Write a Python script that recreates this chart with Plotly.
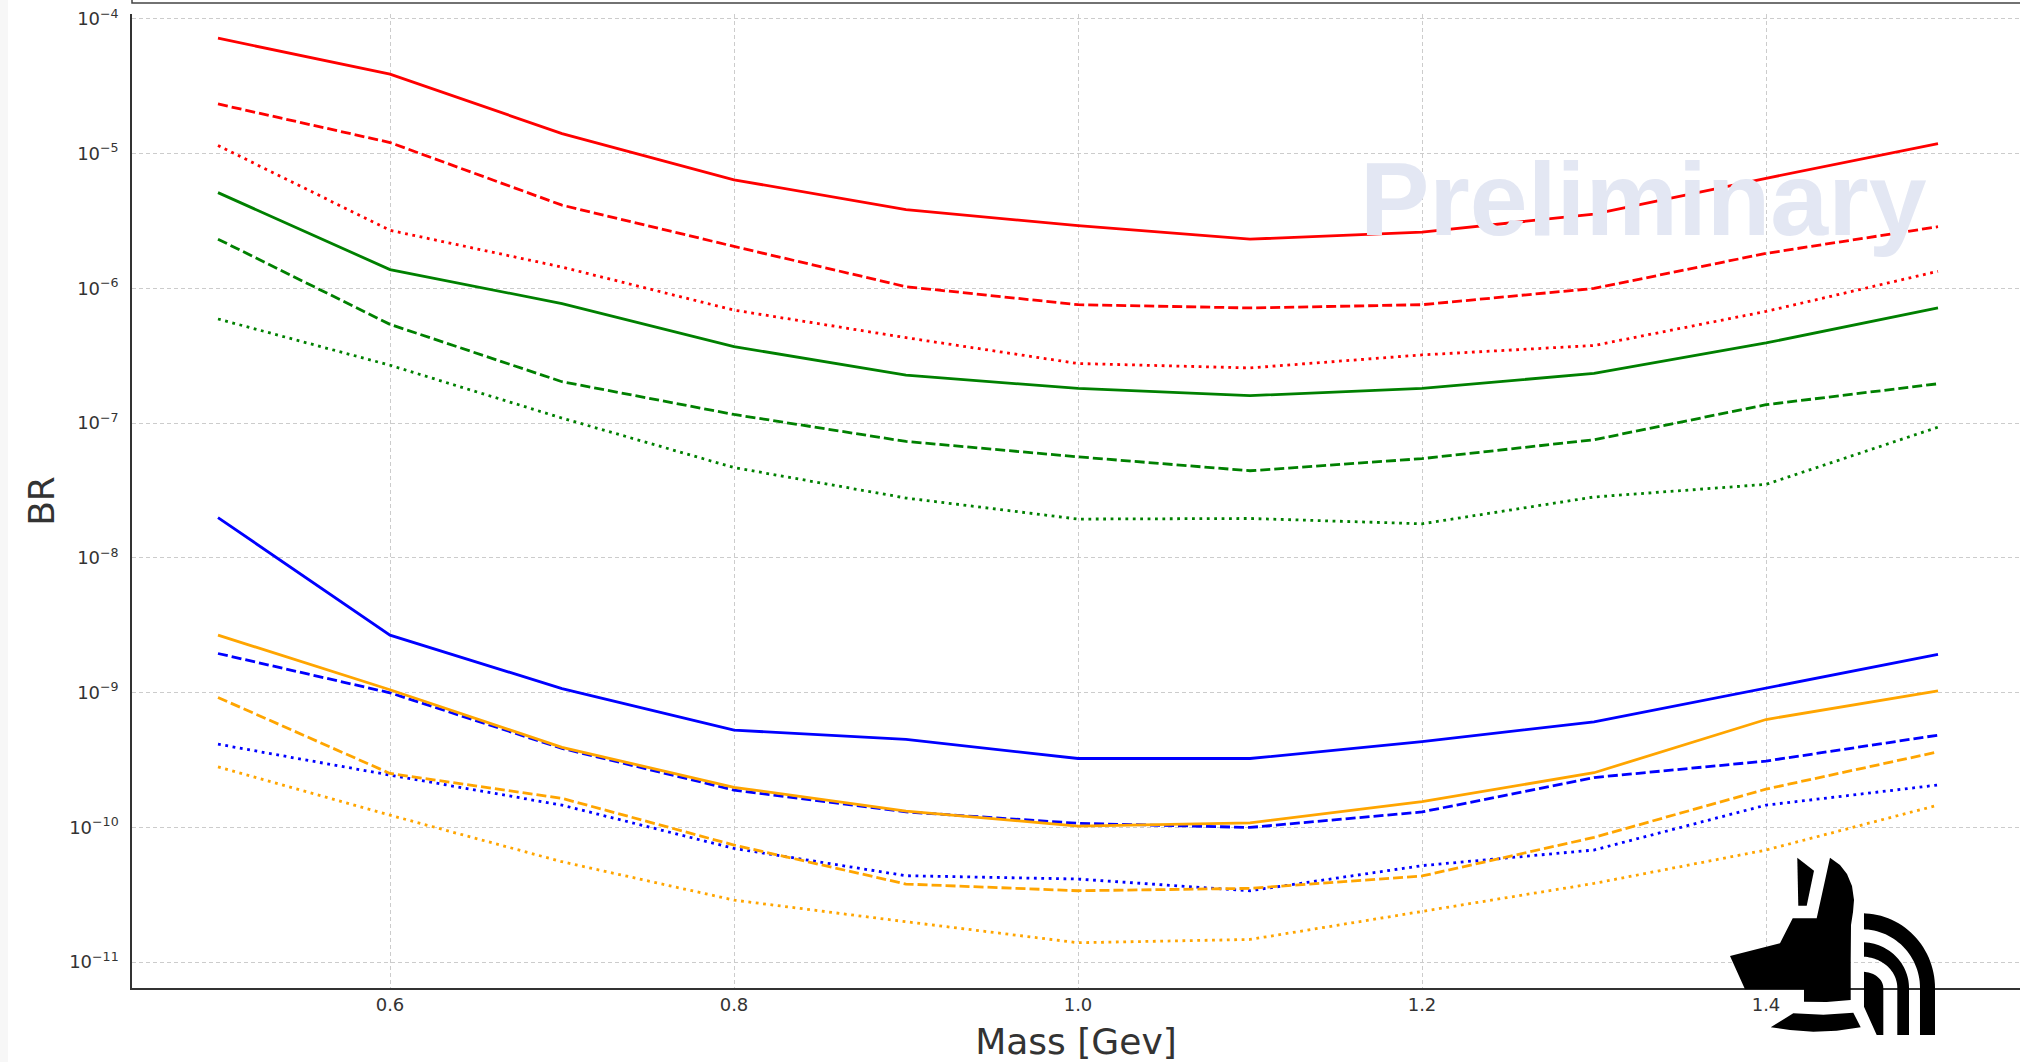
import math
import plotly.graph_objects as go

# ---- data: branching-ratio limits vs mass ----
mass = [0.5, 0.6, 0.7, 0.8, 0.9, 1.0, 1.1, 1.2, 1.3, 1.4, 1.5]

red_solid = [7.2e-5, 3.9e-5, 1.41e-5, 6.4e-6, 3.85e-6, 2.92e-6, 2.32e-6, 2.62e-6, 3.56e-6, 6.56e-6, 1.19e-5]
red_dashed = [2.34e-5, 1.21e-5, 4.15e-6, 2.05e-6, 1.03e-6, 7.57e-7, 7.16e-7, 7.57e-7, 1.0e-6, 1.82e-6, 2.87e-6]
red_dotted = [1.15e-5, 2.70e-6, 1.44e-6, 6.9e-7, 4.31e-7, 2.77e-7, 2.57e-7, 3.21e-7, 3.77e-7, 6.75e-7, 1.34e-6]

green_solid = [5.14e-6, 1.38e-6, 7.71e-7, 3.70e-7, 2.27e-7, 1.81e-7, 1.60e-7, 1.81e-7, 2.34e-7, 3.94e-7, 7.16e-7]
green_dashed = [2.32e-6, 5.41e-7, 2.03e-7, 1.16e-7, 7.31e-8, 5.62e-8, 4.43e-8, 5.45e-8, 7.53e-8, 1.37e-7, 1.96e-7]
green_dotted = [5.93e-7, 2.69e-7, 1.09e-7, 4.68e-8, 2.78e-8, 1.94e-8, 1.96e-8, 1.79e-8, 2.83e-8, 3.51e-8, 9.33e-8]

blue_solid = [1.99e-8, 2.67e-9, 1.07e-9, 5.26e-10, 4.49e-10, 3.24e-10, 3.24e-10, 4.32e-10, 6.07e-10, 1.08e-9, 1.92e-9]
blue_dashed = [1.95e-9, 9.96e-10, 3.85e-10, 1.89e-10, 1.30e-10, 1.07e-10, 9.97e-11, 1.30e-10, 2.34e-10, 3.10e-10, 4.83e-10]
blue_dotted = [4.14e-10, 2.44e-10, 1.46e-10, 6.97e-11, 4.37e-11, 4.13e-11, 3.38e-11, 5.19e-11, 6.78e-11, 1.46e-10, 2.06e-10]

orange_solid = [2.67e-9, 1.05e-9, 3.92e-10, 1.98e-10, 1.32e-10, 1.02e-10, 1.08e-10, 1.55e-10, 2.54e-10, 6.31e-10, 1.03e-9]
orange_dashed = [9.2e-10, 2.51e-10, 1.64e-10, 7.38e-11, 3.79e-11, 3.38e-11, 3.52e-11, 4.35e-11, 8.41e-11, 1.92e-10, 3.63e-10]
orange_dotted = [2.81e-10, 1.23e-10, 5.55e-11, 2.88e-11, 1.99e-11, 1.39e-11, 1.47e-11, 2.36e-11, 3.83e-11, 6.78e-11, 1.46e-10]

x_ticks = [0.6, 0.8, 1.0, 1.2, 1.4]
x_tick_labels = ["0.6", "0.8", "1.0", "1.2", "1.4"]
y_exponents = [-11, -10, -9, -8, -7, -6, -5, -4]

# ---- figure geometry (pixels) ----
FIG_W, FIG_H = 2020, 1062
M_L, M_T, M_B, M_R = 132, 14, 74, 0
PLOT_W = FIG_W - M_L - M_R
PLOT_H = FIG_H - M_T - M_B
PLOT_BOTTOM = FIG_H - M_B

FONT = "DejaVu Sans"
TEXT_COLOR = "#333333"


def px(x, y):
    """pixel position -> paper coordinates"""
    return (x - M_L) / PLOT_W, (PLOT_BOTTOM - y) / PLOT_H


def path_from(points):
    parts = []
    for i, (x, y) in enumerate(points):
        u, v = px(x, y)
        parts.append(("M" if i == 0 else "L") + f"{u:.5f},{v:.5f}")
    return " ".join(parts) + " Z"


series = [
    ("red", "solid", red_solid), ("red", "dash", red_dashed), ("red", "dot", red_dotted),
    ("green", "solid", green_solid), ("green", "dash", green_dashed), ("green", "dot", green_dotted),
    ("blue", "solid", blue_solid), ("blue", "dash", blue_dashed), ("blue", "dot", blue_dotted),
    ("orange", "solid", orange_solid), ("orange", "dash", orange_dashed), ("orange", "dot", orange_dotted),
]
dash_styles = {"solid": "solid", "dash": "10px,4px", "dot": "2.8px,4.6px"}

fig = go.Figure()
for color, style, values in series:
    fig.add_trace(go.Scatter(
        x=mass, y=values, mode="lines", name=f"{color} {style}",
        line=dict(color=color, width=2.8, dash=dash_styles[style]),
        showlegend=False,
    ))

# ---- logo: dog head with sound waves ----
shapes = []
logo_fill = dict(type="path", xref="paper", yref="paper", fillcolor="black",
                 line=dict(width=0), layer="above")

ear = [(1797.3, 857.7), (1814, 870.7), (1806.7, 905.7), (1798.3, 905.7)]
head = [(1830, 857.7), (1840, 865), (1847, 874), (1852, 886), (1854, 900), (1853, 912),
        (1851, 925), (1850.7, 960), (1850.7, 1000), (1826.7, 1002), (1804, 1001.7),
        (1804, 989.3), (1745, 989.3), (1730, 956), (1780, 943.3), (1792.7, 918.3),
        (1816.7, 918.3)]
collar = [(1770.7, 1027.3), (1793.3, 1013.3), (1823.3, 1014.7), (1853.3, 1012.7),
          (1860.7, 1027.3), (1836.7, 1030.7), (1813.3, 1031.7), (1790, 1030)]
for pts in (ear, head, collar):
    shapes.append(dict(logo_fill, path=path_from(pts)))

cx, cy, left_x, foot_y = 1862, 988, 1864, 1035


def wave(rx_out, ry_out, rx_in, ry_in):
    outer, inner = [], []
    for k in range(0, 31):
        a = math.pi / 2 * (1 - k / 30)
        outer.append((max(left_x, cx + rx_out * math.cos(a)), cy - ry_out * math.sin(a)))
    outer.append((cx + rx_out, foot_y))
    inner.append((cx + rx_in, foot_y))
    for k in range(0, 31):
        a = math.pi / 2 * k / 30
        inner.append((max(left_x, cx + rx_in * math.cos(a)), cy - ry_in * math.sin(a)))
    return outer + inner


shapes.append(dict(logo_fill, path=path_from(wave(73, 74.7, 58, 58.7))))
shapes.append(dict(logo_fill, path=path_from(wave(47, 45.7, 35.3, 31.3))))
small = []
for k in range(0, 21):
    a = math.pi / 2 * (1 - k / 20)
    small.append((max(left_x, cx + 21.3 * math.cos(a)), cy - 16.3 * math.sin(a)))
small += [(cx + 21.3, foot_y), (1876.7, foot_y), (left_x, 1006.7)]
shapes.append(dict(logo_fill, path=path_from(small)))

# frame edge of the box above the axes, and the thin left margin band
u0, v0 = px(M_L, 3)
shapes.append(dict(type="rect", xref="paper", yref="paper", x0=u0, x1=1.02, y0=v0, y1=v0 + 0.05,
                   line=dict(color="#444444", width=1.5), fillcolor="white", layer="above"))
ua, _ = px(0, 0)
ub, _ = px(8, 0)
shapes.append(dict(type="rect", xref="paper", yref="paper", x0=ua, x1=ub, y0=-1, y1=2,
                   line=dict(width=0), fillcolor="#f7f7f7", layer="below"))

wx, wy = px(1643, 199)

fig.update_layout(
    width=FIG_W, height=FIG_H,
    margin=dict(l=M_L, r=M_R, t=M_T, b=M_B, autoexpand=False),
    paper_bgcolor="white", plot_bgcolor="white",
    font=dict(family=FONT, color=TEXT_COLOR, size=18),
    shapes=shapes,
    annotations=[dict(
        text="<b>Preliminary</b>", xref="paper", yref="paper", x=wx, y=wy,
        xanchor="center", yanchor="middle", showarrow=False,
        font=dict(family="Liberation Sans", size=104, color="#e3e7f3"),
    )],
    xaxis=dict(
        range=[0.45, 0.45 + PLOT_W / 1720.0],
        tickvals=x_ticks, ticktext=x_tick_labels, ticks="",
        showgrid=True, gridcolor="#cccccc", gridwidth=1, griddash="4px,3px",
        showline=True, linecolor="#333333", linewidth=1.5, zeroline=False,
        tickfont=dict(family=FONT, size=18, color=TEXT_COLOR),
        title=dict(text="Mass [Gev]", font=dict(family=FONT, size=36, color=TEXT_COLOR), standoff=16),
        automargin=False,
    ),
    yaxis=dict(
        type="log",
        range=[-11.193, -3.963],
        tickvals=[10.0 ** e for e in y_exponents],
        ticktext=[f"10<sup>\u2212{-e}</sup>" for e in y_exponents],
        ticks="",
        showgrid=True, gridcolor="#cccccc", gridwidth=1, griddash="4px,3px",
        showline=True, linecolor="#333333", linewidth=1.5, zeroline=False,
        tickfont=dict(family=FONT, size=18, color=TEXT_COLOR),
        ticklabelstandoff=8,
        title=dict(text="BR", font=dict(family=FONT, size=36, color=TEXT_COLOR), standoff=4),
        automargin=False,
    ),
)

fig.write_html("out.html")
